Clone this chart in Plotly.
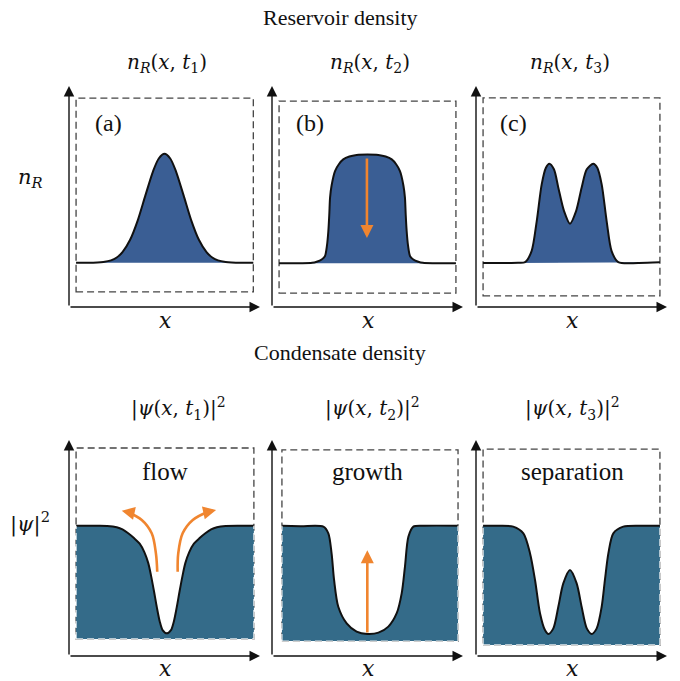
import plotly.graph_objects as go

# ---------------- data (panel units 0..100) -------------
# Reservoir density n_R(x, t)
res_a_x = [3.7, 10, 18, 22, 25, 28, 32, 36, 40, 44, 47, 50, 53, 56, 60, 64, 68, 72, 75, 78, 82, 90, 96.5]
res_a_y = [20, 20, 20.4, 21.1, 22.4, 24.8, 30.4, 39.2, 50.5, 61.4, 67.2, 69.3, 67.2, 61.4, 50.5, 39.2, 30.4, 24.8, 22.4, 21.1, 20.4, 20, 20]

res_b_x = [3.7, 15, 21, 23.4, 26, 27.7, 28.8, 29.5, 30, 30.4, 31.2, 33, 35, 37.3, 40.5, 44.3, 50,
           55.7, 59.5, 62.7, 65, 67, 68.8, 69.6, 70, 70.5, 71.2, 72.3, 74, 76.6, 79, 85, 96.3]
res_b_y = [19.8, 19.8, 20, 20.5, 21.5, 23, 28, 34.4, 42, 49.5, 55, 61.5, 64.6, 66.8, 68.1, 68.8, 69,
           68.8, 68.1, 66.8, 64.6, 61.5, 55, 49.5, 42, 34.4, 28, 23, 21.5, 20.5, 20, 19.8, 19.8]

res_c_x = [3.7, 15, 22, 25.7, 29.1, 31.8, 34.4, 36.6, 38.4, 40.8, 43.1, 46.1, 49.2,
           52.4, 55.3, 58.0, 61.4, 63.5, 65.8, 68.4, 71.0, 74.5, 85, 96.3]
res_c_y = [19.9, 19.9, 20, 20.3, 25.3, 38.9, 55.5, 63, 64.8, 62.3, 54, 43.4, 37.7,
           43.4, 54, 62.3, 64.8, 63, 55.5, 38.9, 25.3, 20.3, 19.9, 20.2]

# Condensate density |psi(x, t)|^2
con_a_x = [3.7, 15, 20, 25, 28, 31, 34, 37, 39.5, 41.5, 43, 44.5, 46, 47.5, 49, 51.2,
           53.4, 54.9, 56.4, 57.9, 59.4, 60.9, 62.9, 65.4, 68.4, 71.4, 74.4, 77.4, 82, 90, 96.8]
con_a_y = [60.3, 60.3, 60.2, 59.6, 58.6, 56.8, 54.6, 52, 48, 43, 37, 30, 22.5, 16, 12, 10.5,
           12, 16, 22.5, 30, 37, 43, 48, 52, 54.6, 56.8, 58.6, 59.6, 60.2, 60.3, 60.3]

con_b_x = [3.7, 15, 26.9, 29.5, 31.2, 32.5, 34.7, 39.1, 44.3, 49.9, 55.7, 60.9, 65.3, 67.9, 69.6, 71.4, 74.0, 80, 96.3]
con_b_y = [60.3, 60.1, 59.9, 56.8, 47.5, 35.2, 22.8, 15.1, 11.3, 10.2, 10.8, 13.6, 19.8, 29.0, 41.3, 55.2, 59.9, 60.3, 60.3]

con_c_x = [3.8, 12, 19.5, 24.8, 28.3, 30.9, 33.5, 36.1, 37.9, 40.5, 43.1, 45.7, 49.2, 52.7, 55.3, 58.0,
           60.6, 63.2, 65.8, 67.5, 69.3, 71.9, 77.1, 88, 96.3]
con_c_y = [60.3, 60.3, 59.9, 56.8, 47.5, 35.2, 19.8, 12.0, 10.2, 12.8, 22.8, 33.6, 39.8, 33.6, 22.8, 12.8,
           10.2, 12.8, 22.8, 35.2, 47.5, 56.8, 59.9, 60.3, 60.3]

# orange flow arrows in panel "flow"
flow_left_x = [46.2, 45.5, 43.3, 38.1, 30.2, 27.6]
flow_left_y = [39.0, 47.5, 56.8, 63.0, 66.8, 67.3]
flow_right_x = [56.9, 57.2, 59.5, 64.8, 72.9, 77.0]
flow_right_y = [39.0, 47.5, 56.8, 63.0, 66.8, 67.6]
# straight arrows: (x, y_start, y_end)
down_arrow = (49.7, 67.9, 31.2)
up_arrow = (49.9, 10.2, 49.0)

top_titles = ["<i>n</i><sub><i>R</i></sub>(<i>x</i>, <i>t</i><sub>1</sub>)",
              "<i>n</i><sub><i>R</i></sub>(<i>x</i>, <i>t</i><sub>2</sub>)",
              "<i>n</i><sub><i>R</i></sub>(<i>x</i>, <i>t</i><sub>3</sub>)"]
bot_titles = ["|<i>ψ</i>(<i>x</i>, <i>t</i><sub>1</sub>)|<sup>2</sup>",
              "|<i>ψ</i>(<i>x</i>, <i>t</i><sub>2</sub>)|<sup>2</sup>",
              "|<i>ψ</i>(<i>x</i>, <i>t</i><sub>3</sub>)|<sup>2</sup>"]
panel_tags = ["(a)", "(b)", "(c)"]
process_labels = ["flow", "growth", "separation"]

# ---------------- styling / layout ----------------
W, H = 680, 681
BLUE = "#3A5E94"
TEAL = "#346B89"
ORANGE = "#F0852F"
SERIF = '"Liberation Serif", "DejaVu Serif", serif'
MATH = '"DejaVu Serif", "Liberation Serif", serif'

origins_x = [69, 272, 476]
axis_len_x = 191
top_oy, top_tip = 307, 86
bot_oy, bot_tip = 656, 440

top_box = [(3.7, 96.5, 6.8, 94.5), (3.7, 96.3, 6.3, 93.2), (3.7, 96.3, 5.0, 94.6)]
bot_box = [(3.7, 96.8, 7.9, 96.3), (5.2, 97.4, 6.9, 95.4), (3.7, 96.3, 5.1, 95.8)]

fig = go.Figure()
layout = dict(width=W, height=H, margin=dict(l=0, r=0, t=0, b=0),
              paper_bgcolor="white", plot_bgcolor="rgba(0,0,0,0)", showlegend=False)

annotations = []
shapes = []


def ax_name(k):
    return "" if k == 1 else str(k)


res_data = [(res_a_x, res_a_y), (res_b_x, res_b_y), (res_c_x, res_c_y)]
con_data = [(con_a_x, con_a_y), (con_b_x, con_b_y), (con_c_x, con_c_y)]

for row in range(2):
    oy = top_oy if row == 0 else bot_oy
    tip = top_tip if row == 0 else bot_tip
    for col in range(3):
        k = row * 3 + col + 1
        s = ax_name(k)
        xa, ya = "x" + s, "y" + s
        ox = origins_x[col]
        layout["xaxis" + s] = dict(domain=[ox / W, (ox + axis_len_x) / W], range=[0, 100],
                                   visible=False, anchor=ya, fixedrange=True)
        layout["yaxis" + s] = dict(domain=[1 - oy / H, 1 - tip / H], range=[0, 100],
                                   visible=False, anchor=xa, fixedrange=True)
        # axis arrows
        for (hx, hy) in [(100, 0), (0, 100)]:
            annotations.append(dict(x=hx, y=hy, ax=0, ay=0, xref=xa, yref=ya, axref=xa, ayref=ya,
                                    text="", showarrow=True, arrowhead=2, arrowsize=1.5,
                                    arrowwidth=1.4, arrowcolor="#111", standoff=0, startstandoff=0))
        box = top_box[col] if row == 0 else bot_box[col]
        shapes.append(dict(type="rect", xref=xa, yref=ya, x0=box[0], x1=box[1], y0=box[2], y1=box[3],
                           line=dict(color="#444", width=1.3, dash="7px,4px"), layer="below"))
        if row == 0:
            cx, cy = res_data[col]
            fig.add_trace(go.Scatter(x=[cx[0], cx[-1]], y=[cy[0], cy[-1]], mode="lines",
                                     line=dict(width=0), xaxis=xa, yaxis=ya, hoverinfo="skip"))
            fig.add_trace(go.Scatter(x=cx, y=cy, mode="lines", fill="tonexty", fillcolor=BLUE,
                                     line=dict(color="#111", width=2, shape="spline", smoothing=0.8),
                                     xaxis=xa, yaxis=ya, hoverinfo="skip"))
        else:
            cx, cy = con_data[col]
            fig.add_trace(go.Scatter(x=[box[0], box[1]], y=[box[2], box[2]], mode="lines",
                                     line=dict(width=0), xaxis=xa, yaxis=ya, hoverinfo="skip"))
            fig.add_trace(go.Scatter(x=[box[0]] + cx[1:-1] + [box[1]], y=cy, mode="lines",
                                     fill="tonexty", fillcolor=TEAL,
                                     line=dict(color="#111", width=2, shape="spline", smoothing=0.8),
                                     xaxis=xa, yaxis=ya, hoverinfo="skip"))
            # light dashed edges of the box over the fill
            for (x0, y0, x1, y1) in [(box[0], box[2], box[1], box[2]),
                                     (box[0], box[2], box[0], cy[0]),
                                     (box[1], box[2], box[1], cy[-1])]:
                shapes.append(dict(type="line", xref=xa, yref=ya, x0=x0, y0=y0, x1=x1, y1=y1,
                                   line=dict(color="rgba(255,255,255,0.85)", width=1.3, dash="7px,4px"),
                                   layer="above"))

# orange arrows
fig.add_trace(go.Scatter(x=flow_left_x[:-1], y=flow_left_y[:-1], mode="lines",
                         line=dict(color=ORANGE, width=2.6, shape="spline"), xaxis="x4", yaxis="y4",
                         hoverinfo="skip"))
fig.add_trace(go.Scatter(x=flow_right_x[:-1], y=flow_right_y[:-1], mode="lines",
                         line=dict(color=ORANGE, width=2.6, shape="spline"), xaxis="x4", yaxis="y4",
                         hoverinfo="skip"))
for fx, fy in [(flow_left_x, flow_left_y), (flow_right_x, flow_right_y)]:
    annotations.append(dict(x=fx[-1], y=fy[-1], ax=fx[-2], ay=fy[-2], xref="x4", yref="y4",
                            axref="x4", ayref="y4", text="", showarrow=True, arrowhead=2,
                            arrowsize=1.0, arrowwidth=2.6, arrowcolor=ORANGE, standoff=0))
annotations.append(dict(x=down_arrow[0], y=down_arrow[2], ax=down_arrow[0], ay=down_arrow[1],
                        xref="x2", yref="y2", axref="x2", ayref="y2", text="", showarrow=True,
                        arrowhead=2, arrowsize=1.0, arrowwidth=2.6, arrowcolor=ORANGE, standoff=0))
annotations.append(dict(x=up_arrow[0], y=up_arrow[2], ax=up_arrow[0], ay=up_arrow[1],
                        xref="x5", yref="y5", axref="x5", ayref="y5", text="", showarrow=True,
                        arrowhead=2, arrowsize=1.0, arrowwidth=2.6, arrowcolor=ORANGE, standoff=0))


def ptext(txt, px, py, size, family=SERIF):
    annotations.append(dict(text=txt, x=px / W, y=1 - py / H, xref="paper", yref="paper",
                            showarrow=False, xanchor="center", yanchor="middle",
                            font=dict(family=family, size=size, color="#111")))


ptext("Reservoir density", 340, 18, 22)
ptext("Condensate density", 340, 352, 22)
for i, t in enumerate(top_titles):
    ptext(t, [167, 370, 570][i], 63, 20, MATH)
for i, t in enumerate(bot_titles):
    ptext(t, [178, 372, 572][i], 408, 20, MATH)
for i, t in enumerate(panel_tags):
    ptext(t, [108, 310, 513][i], 123, 24)
for i, t in enumerate(process_labels):
    ptext(t, [165, 367, 572][i], 472, 25)
for px in [165, 368, 572]:
    ptext("<i>x</i>", px, 320, 22, MATH)
    ptext("<i>x</i>", px, 668, 22, MATH)
ptext("<i>n</i><sub><i>R</i></sub>", 30, 178, 21, MATH)
ptext("|<i>ψ</i>|<sup>2</sup>", 30, 522, 21, MATH)

layout["annotations"] = annotations
layout["shapes"] = shapes
fig.update_layout(**layout)
fig.write_html("out.html")
